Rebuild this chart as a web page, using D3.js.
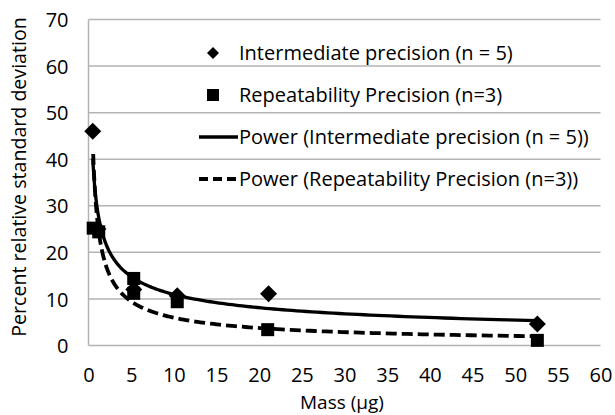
<!DOCTYPE html>
<html>
<head>
<meta charset="utf-8">
<script src="https://cdn.jsdelivr.net/npm/d3@7"></script>
<style>
  html, body { margin: 0; padding: 0; background: #fff; }
  svg { display: block; }
  text { font-family: "Open Sans", Lato, sans-serif; fill: #000; }
</style>
</head>
<body>
<svg id="chart" width="615" height="415"></svg>
<script>
// ---- data ----
const intermediateMass = [0.5, 1.1, 5.3, 10.4, 21.1, 52.6];
const intermediateRSD  = [46, 25, 12, 10.7, 11.1, 4.6];
const repeatMass = [0.55, 1.2, 5.3, 5.3, 10.4, 21.0, 52.6];
const repeatRSD  = [25.2, 24.4, 14.4, 11.2, 9.4, 3.4, 1.1];
const xTicks = [0, 5, 10, 15, 20, 25, 30, 35, 40, 45, 50, 55, 60];
const yTicks = [0, 10, 20, 30, 40, 50, 60, 70];
const legendLabels = [
  "Intermediate precision (n = 5)",
  "Repeatability Precision (n=3)",
  "Power (Intermediate precision (n = 5))",
  "Power (Repeatability Precision (n=3))"
];
const xTitle = "Mass (\u00b5g)";
const yTitle = "Percent relative standard deviation";

// ---- layout ----
const FONT = "'Open Sans', Lato, sans-serif";
const svg = d3.select("#chart");
const x = d3.scaleLinear().domain([0, 60]).range([88.5, 600.5]);
const y = d3.scaleLinear().domain([0, 70]).range([345.5, 19.5]);
const gridColor = "#b3b3b3";

// gridlines
svg.append("g").selectAll("line").data(yTicks).join("line")
  .attr("x1", x(0)).attr("x2", x(60))
  .attr("y1", d => y(d)).attr("y2", d => y(d))
  .attr("stroke", gridColor).attr("stroke-width", 1.5);
// left axis line
svg.append("line").attr("x1", x(0)).attr("x2", x(0))
  .attr("y1", y(0)).attr("y2", y(70))
  .attr("stroke", gridColor).attr("stroke-width", 1.5);

// axes labels via d3 axes (no tick lines)
const yAxis = svg.append("g").attr("transform", `translate(${x(0) - 20},0)`)
  .call(d3.axisLeft(y).tickValues(yTicks).tickSize(0).tickPadding(0));
yAxis.select(".domain").remove();
yAxis.selectAll("text").attr("font-size", 20).attr("dy", "0.36em")
  .style("font-family", FONT).attr("fill", "#000");

const xAxis = svg.append("g").attr("transform", `translate(0,381.5)`)
  .call(d3.axisBottom(x).tickValues(xTicks).tickSize(0).tickPadding(0));
xAxis.select(".domain").remove();
xAxis.selectAll("text").attr("font-size", 20).attr("dy", "0")
  .style("font-family", FONT).attr("fill", "#000");

svg.append("text").attr("x", 342).attr("y", 409).attr("text-anchor", "middle")
  .attr("font-size", 19).text(xTitle);
svg.append("text").attr("transform", "translate(26,177) rotate(-90)")
  .attr("text-anchor", "middle").attr("font-size", 19.6).text(yTitle);

// ---- power trendlines (least squares in log-log, like a spreadsheet power trendline) ----
function powerFit(xs, ys) {
  const lx = xs.map(Math.log), ly = ys.map(Math.log);
  const mx = d3.mean(lx), my = d3.mean(ly);
  const b = d3.sum(lx, (v, i) => (v - mx) * (ly[i] - my)) / d3.sum(lx, v => (v - mx) * (v - mx));
  const a = Math.exp(my - b * mx);
  return { a, b, min: d3.min(xs), max: d3.max(xs) };
}
function curvePoints(fit) {
  const n = 200, pts = [];
  const l0 = Math.log(fit.min), l1 = Math.log(fit.max);
  for (let i = 0; i <= n; i++) {
    const xv = Math.exp(l0 + (l1 - l0) * i / n);
    pts.push([xv, fit.a * Math.pow(xv, fit.b)]);
  }
  return pts;
}
const line = d3.line().x(d => x(d[0])).y(d => y(d[1]));
const fitI = powerFit(intermediateMass, intermediateRSD);
const fitR = powerFit(repeatMass, repeatRSD);

svg.append("path").attr("d", line(curvePoints(fitR)))
  .attr("fill", "none").attr("stroke", "#000").attr("stroke-width", 3.8)
  .attr("stroke-dasharray", "11,5");
svg.append("path").attr("d", line(curvePoints(fitI)))
  .attr("fill", "none").attr("stroke", "#000").attr("stroke-width", 3.3);

// ---- markers ----
const diamond = r => `M0,${-r}L${r},0L0,${r}L${-r},0Z`;
svg.append("g").selectAll("rect").data(repeatMass.map((m, i) => [m, repeatRSD[i]])).join("rect")
  .attr("x", d => x(d[0]) - 6.5).attr("y", d => y(d[1]) - 6.5)
  .attr("width", 13).attr("height", 13).attr("fill", "#000");
svg.append("g").selectAll("path").data(intermediateMass.map((m, i) => [m, intermediateRSD[i]])).join("path")
  .attr("transform", d => `translate(${x(d[0])},${y(d[1])})`)
  .attr("d", diamond(8.5)).attr("fill", "#000");

// ---- legend ----
const legY = [53, 95, 137, 179];
const lg = svg.append("g");
lg.selectAll("text").data(legendLabels).join("text")
  .attr("x", 239).attr("y", (d, i) => legY[i]).attr("dy", "0.36em")
  .attr("font-size", 20).text(d => d);
lg.append("path").attr("transform", `translate(213,${legY[0]})`).attr("d", diamond(6)).attr("fill", "#000");
lg.append("rect").attr("x", 207).attr("y", legY[1] - 6).attr("width", 12).attr("height", 12).attr("fill", "#000");
lg.append("line").attr("x1", 199).attr("x2", 238).attr("y1", legY[2]).attr("y2", legY[2])
  .attr("stroke", "#000").attr("stroke-width", 3.3);
lg.append("line").attr("x1", 199).attr("x2", 238).attr("y1", legY[3]).attr("y2", legY[3])
  .attr("stroke", "#000").attr("stroke-width", 3.8).attr("stroke-dasharray", "9,5");
</script>
</body>
</html>
